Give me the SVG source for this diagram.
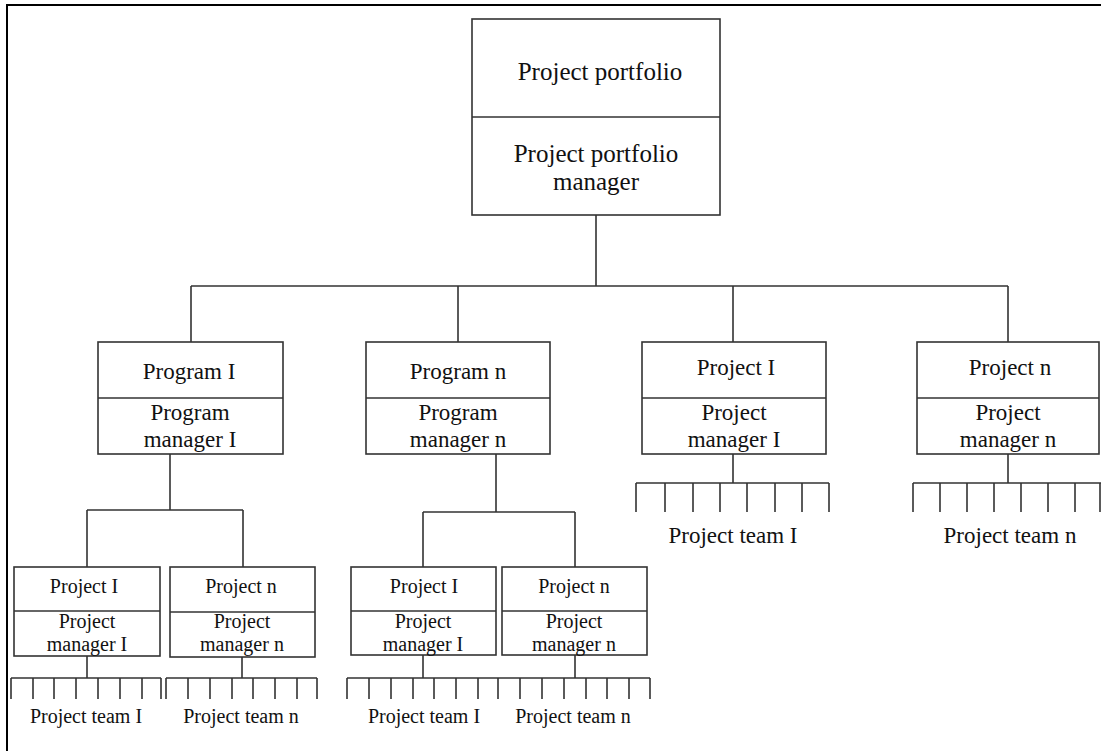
<svg xmlns="http://www.w3.org/2000/svg" width="1101" height="751" viewBox="0 0 1101 751">
<style>
.box{fill:#fff;stroke:#333;stroke-width:1.6}
.ln{stroke:#333;stroke-width:1.6;fill:none}
.t{font-family:"Liberation Serif","Times New Roman",serif;fill:#111;text-anchor:middle}
.t1{font-size:25px}
.t2{font-size:23px}
.t3{font-size:20px}
</style>
<rect width="1101" height="751" fill="#fff"/>
<path d="M7,751 V5 H1101" stroke="#000" stroke-width="2" fill="none"/>
<g id="connectors" class="ln">
<path d="M596,215 V286 M191,286 H1008 M191,286 V342 M458,286 V342 M733,286 V342 M1008,286 V342"/>
<path d="M170,454 V510 M87,510 H243 M87,510 V567 M243,510 V567"/>
<path d="M496,454 V512 M423,512 H575 M423,512 V567 M575,512 V567"/>
<path d="M87,656 V678 M11,678 H161 M11,678 V699 M33,678 V699 M54,678 V699 M76,678 V699 M98,678 V699 M120,678 V699 M142,678 V699 M161,678 V699"/>
<path d="M242,657 V678 M166,678 H317 M166,678 V699 M188,678 V699 M210,678 V699 M232,678 V699 M253,678 V699 M275,678 V699 M297,678 V699 M317,678 V699"/>
<path d="M423,655 V678 M575,655 V678 M347,678 H650 M347,678 V699 M369,678 V699 M391,678 V699 M413,678 V699 M434,678 V699 M456,678 V699 M478,678 V699 M498,678 V699 M520,678 V699 M542,678 V699 M564,678 V699 M586,678 V699 M607,678 V699 M629,678 V699 M650,678 V699"/>
<path d="M733,454 V483 M636,483 H829 M636,483 V512 M665,483 V512 M693,483 V512 M720,483 V512 M747,483 V512 M775,483 V512 M802,483 V512 M829,483 V512"/>
<path d="M1008,454 V483 M913,483 H1101 M913,483 V512 M940,483 V512 M967,483 V512 M994,483 V512 M1021,483 V512 M1048,483 V512 M1075,483 V512 M1100,483 V512"/>
</g>
<g id="portfolio">
<rect class="box" x="472" y="19" width="248" height="196"/>
<line class="ln" x1="472" y1="117" x2="720" y2="117"/>
<text class="t t1" x="600" y="80">Project portfolio</text>
<text class="t t1" x="596" y="162">Project portfolio</text>
<text class="t t1" x="596" y="190">manager</text>
</g>
<g id="program1">
<rect class="box" x="98" y="342" width="185" height="112"/>
<line class="ln" x1="98" y1="398" x2="283" y2="398"/>
<text class="t t2" x="189" y="379">Program I</text>
<text class="t t2" x="190" y="420">Program</text>
<text class="t t2" x="190" y="447">manager I</text>
</g>
<g id="programN">
<rect class="box" x="366" y="342" width="184" height="112"/>
<line class="ln" x1="366" y1="398" x2="550" y2="398"/>
<text class="t t2" x="458" y="379">Program n</text>
<text class="t t2" x="458" y="420">Program</text>
<text class="t t2" x="458" y="447">manager n</text>
</g>
<g id="project1">
<rect class="box" x="642" y="342" width="184" height="112"/>
<line class="ln" x1="642" y1="398" x2="826" y2="398"/>
<text class="t t2" x="736" y="375">Project I</text>
<text class="t t2" x="734" y="420">Project</text>
<text class="t t2" x="734" y="447">manager I</text>
<text class="t t2" x="733" y="543">Project team I</text>
</g>
<g id="projectN">
<rect class="box" x="917" y="342" width="182" height="112"/>
<line class="ln" x1="917" y1="398" x2="1099" y2="398"/>
<text class="t t2" x="1010" y="375">Project n</text>
<text class="t t2" x="1008" y="420">Project</text>
<text class="t t2" x="1008" y="447">manager n</text>
<text class="t t2" x="1010" y="543">Project team n</text>
</g>
<g id="p1-project1">
<rect class="box" x="14" y="567" width="146" height="89"/>
<line class="ln" x1="14" y1="611" x2="160" y2="611"/>
<text class="t t3" x="84" y="593">Project I</text>
<text class="t t3" x="87" y="628">Project</text>
<text class="t t3" x="87" y="651">manager I</text>
<text class="t t3" x="86" y="723">Project team I</text>
</g>
<g id="p1-projectN">
<rect class="box" x="170" y="567" width="145" height="90"/>
<line class="ln" x1="170" y1="612" x2="315" y2="612"/>
<text class="t t3" x="241" y="593">Project n</text>
<text class="t t3" x="242" y="628">Project</text>
<text class="t t3" x="242" y="651">manager n</text>
<text class="t t3" x="241" y="723">Project team n</text>
</g>
<g id="pn-project1">
<rect class="box" x="351" y="567" width="145" height="88"/>
<line class="ln" x1="351" y1="611" x2="496" y2="611"/>
<text class="t t3" x="424" y="593">Project I</text>
<text class="t t3" x="423" y="628">Project</text>
<text class="t t3" x="423" y="651">manager I</text>
<text class="t t3" x="424" y="723">Project team I</text>
</g>
<g id="pn-projectN">
<rect class="box" x="502" y="567" width="145" height="88"/>
<line class="ln" x1="502" y1="611" x2="647" y2="611"/>
<text class="t t3" x="574" y="593">Project n</text>
<text class="t t3" x="574" y="628">Project</text>
<text class="t t3" x="574" y="651">manager n</text>
<text class="t t3" x="573" y="723">Project team n</text>
</g>
</svg>
